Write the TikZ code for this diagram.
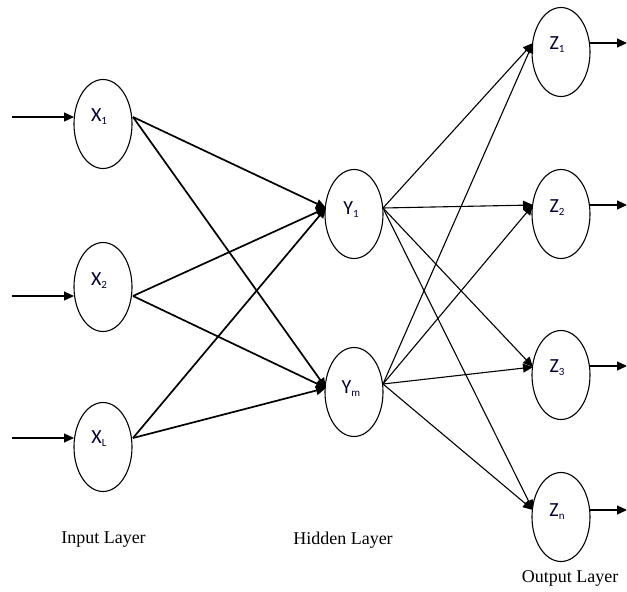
\documentclass[tikz,border=0pt]{standalone}
\usepackage{fontspec}
\setmainfont{Liberation Serif}
\newfontfamily\nodefont{Carlito}
\usetikzlibrary{arrows.meta,shapes.geometric}
\tikzset{
  neuron/.style={draw, ellipse, line width=1.1pt, minimum width=58pt, minimum height=89pt, inner sep=0pt},
  nlab/.style={text=black!80!blue, inner sep=0pt},
  tip/.style={-{Triangle[length=10pt,width=9pt]}},
  inarrow/.style={tip, line width=1.3pt},
  xyline/.style={tip, line width=1.7pt},
  yzline/.style={tip, line width=1.1pt},
  layerlab/.style={font=\fontsize{18}{18}\selectfont}
}
\newcommand{\nl}[2]{\nodefont\fontsize{20}{20}\selectfont #1\raisebox{-3pt}{\fontsize{11}{11}\selectfont #2}}
\begin{document}
\begin{tikzpicture}[x=1pt,y=-1pt]
\useasboundingbox (0,0) rectangle (627,592);
% neurons
\node[neuron] (X1) at (103,124) {};
\node[neuron] (X2) at (103,287) {};
\node[neuron] (XL) at (103,447) {};
\node[neuron] (Y1) at (354,214) {};
\node[neuron] (Ym) at (354,392) {};
\node[neuron] (Z1) at (561,52) {};
\node[neuron] (Z2) at (561,214) {};
\node[neuron] (Z3) at (561,375) {};
\node[neuron] (Zn) at (561,517) {};
% node labels
\node[nlab] (tX1) at (99,117) {\nl{X}{1}};
\node[nlab] (tX2) at (99,281) {\nl{X}{2}};
\node[nlab] (tXL) at (99,439) {\nl{X}{L}};
\node[nlab] (tY1) at (351,210) {\nl{Y}{1}};
\node[nlab] (tYm) at (351,389) {\nl{Y}{m}};
\node[nlab] (tZ1) at (557,45) {\nl{Z}{1}};
\node[nlab] (tZ2) at (557,208) {\nl{Z}{2}};
\node[nlab] (tZ3) at (557,368) {\nl{Z}{3}};
\node[nlab] (tZn) at (557,512) {\nl{Z}{n}};
% connection points
\coordinate (X1i) at (74,117);  \coordinate (X1o) at (133,117);
\coordinate (X2i) at (74,296);  \coordinate (X2o) at (133,296);
\coordinate (XLi) at (74,438);  \coordinate (XLo) at (133,438);
\coordinate (Y1i) at (326,208); \coordinate (Y1o) at (383,208);
\coordinate (Ymi) at (326,388); \coordinate (Ymo) at (383,384);
\coordinate (Z1i) at (533,43);  \coordinate (Z1o) at (590,43);
\coordinate (Z2i) at (533,205); \coordinate (Z2o) at (590,205);
\coordinate (Z3i) at (533,367); \coordinate (Z3o) at (590,366);
\coordinate (Zni) at (533,510); \coordinate (Zno) at (590,510);
% input and output free ends
\coordinate (A1) at (12,117); \coordinate (A2) at (12,296); \coordinate (A3) at (12,438);
\coordinate (B1) at (627,43); \coordinate (B2) at (627,205); \coordinate (B3) at (627,366); \coordinate (B4) at (627,510);
% input arrows
\draw[inarrow] (A1) -- (X1i);
\draw[inarrow] (A2) -- (X2i);
\draw[inarrow] (A3) -- (XLi);
% input to hidden
\foreach \s in {X1o,X2o,XLo}{
  \draw[xyline] (\s) -- (Y1i);
  \draw[xyline] (\s) -- (Ymi);
}
% hidden to output
\foreach \s in {Y1o,Ymo}{
  \foreach \t in {Z1i,Z2i,Z3i,Zni}{
    \draw[yzline] (\s) -- (\t);
  }
}
% output arrows
\draw[inarrow] (Z1o) -- (B1);
\draw[inarrow] (Z2o) -- (B2);
\draw[inarrow] (Z3o) -- (B3);
\draw[inarrow] (Zno) -- (B4);
% layer labels
\node[layerlab] (LI) at (103.5,540) {Input Layer};
\node[layerlab] (LH) at (343,540) {Hidden Layer};
\node[layerlab] (LO) at (570,578) {Output Layer};
\end{tikzpicture}
\end{document}
